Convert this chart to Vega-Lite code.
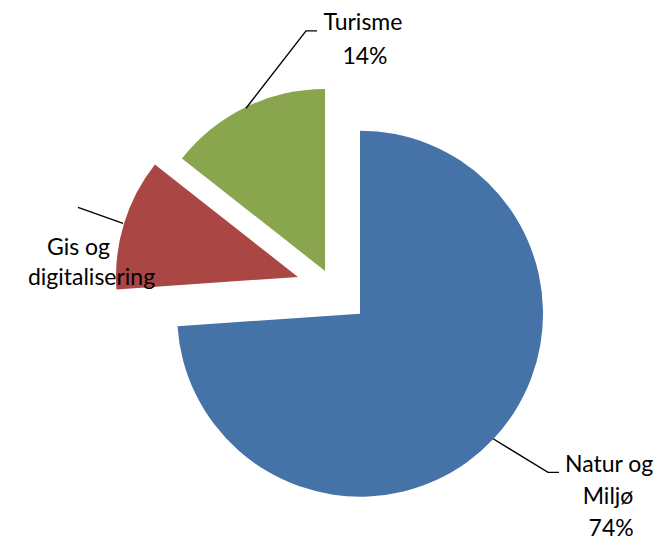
{
  "$schema": "https://vega.github.io/schema/vega-lite/v6.json",
  "width": 658,
  "height": 541,
  "padding": 0,
  "autosize": {"type": "fit", "contains": "padding"},
  "background": "white",
  "config": {"view": {"stroke": null}},
  "datasets": {
    "andeler": [
      {"kategori": "Natur og Miljø", "andel": 73.9, "rekkefolge": 1},
      {"kategori": "Gis og digitalisering", "andel": 11.7, "rekkefolge": 2},
      {"kategori": "Turisme", "andel": 14.4, "rekkefolge": 3}
    ],
    "linjer": [
      {"etikett": "Turisme", "punkt": 1, "u": -62.3, "v": 113.1},
      {"etikett": "Turisme", "punkt": 2, "u": -29.5, "v": 155.7},
      {"etikett": "Turisme", "punkt": 3, "u": -23.5, "v": 155.7},
      {"etikett": "Gis", "punkt": 1, "u": -154.1, "v": 58.5},
      {"etikett": "Gis", "punkt": 2, "u": -129.5, "v": 49.7},
      {"etikett": "Natur", "punkt": 1, "u": 72.7, "v": -68.9},
      {"etikett": "Natur", "punkt": 2, "u": 102.7, "v": -87.4},
      {"etikett": "Natur", "punkt": 3, "u": 108.7, "v": -87.4}
    ],
    "tekster": [
      {"tekst": "Turisme", "u": 1.6, "v": 156.3},
      {"tekst": "14%", "u": 2.7, "v": 137.7},
      {"tekst": "Gis og", "u": -153.8, "v": 32.2},
      {"tekst": "digitalisering", "u": -146.7, "v": 15.8},
      {"tekst": "Natur og", "u": 136.1, "v": -87.4},
      {"tekst": "Miljø", "u": 135.5, "v": -104.9},
      {"tekst": "74%", "u": 137.2, "v": -122.4}
    ]
  },
  "layer": [
    {
      "data": {"name": "andeler"},
      "transform": [
        {"stack": "andel", "groupby": [], "sort": [{"field": "rekkefolge"}], "as": ["start", "slutt"]}
      ],
      "encoding": {
        "theta": {"field": "start", "type": "quantitative", "scale": {"domain": [0, 100]}},
        "theta2": {"field": "slutt"},
        "color": {
          "field": "kategori",
          "type": "nominal",
          "scale": {"domain": ["Natur og Miljø", "Gis og digitalisering", "Turisme"], "range": ["#4572A7", "#AA4643", "#89A54E"]},
          "legend": null
        }
      },
      "layer": [
        {
          "transform": [{"filter": "datum.kategori === 'Natur og Miljø'"}],
          "mark": {"type": "arc", "outerRadius": 183},
          "encoding": {
            "x": {"datum": 0, "type": "quantitative", "scale": {"domain": [-196.7, 162.8], "nice": false, "zero": false}, "axis": null},
            "y": {"datum": 0, "type": "quantitative", "scale": {"domain": [-123.0, 172.7], "nice": false, "zero": false}, "axis": null}
          }
        },
        {
          "transform": [{"filter": "datum.kategori === 'Gis og digitalisering'"}],
          "mark": {"type": "arc", "outerRadius": 182},
          "encoding": {
            "x": {"datum": -33.9, "type": "quantitative", "scale": {"domain": [-196.7, 162.8], "nice": false, "zero": false}, "axis": null},
            "y": {"datum": 20.2, "type": "quantitative", "scale": {"domain": [-123.0, 172.7], "nice": false, "zero": false}, "axis": null}
          }
        },
        {
          "transform": [{"filter": "datum.kategori === 'Turisme'"}],
          "mark": {"type": "arc", "outerRadius": 182},
          "encoding": {
            "x": {"datum": -19.1, "type": "quantitative", "scale": {"domain": [-196.7, 162.8], "nice": false, "zero": false}, "axis": null},
            "y": {"datum": 23.5, "type": "quantitative", "scale": {"domain": [-123.0, 172.7], "nice": false, "zero": false}, "axis": null}
          }
        }
      ]
    },
    {
      "data": {"name": "linjer"},
      "mark": {"type": "line", "color": "black", "strokeWidth": 1.4},
      "encoding": {
        "x": {"field": "u", "type": "quantitative", "scale": {"domain": [-196.7, 162.8], "nice": false, "zero": false}, "axis": null},
        "y": {"field": "v", "type": "quantitative", "scale": {"domain": [-123.0, 172.7], "nice": false, "zero": false}, "axis": null},
        "detail": {"field": "etikett"},
        "order": {"field": "punkt"}
      }
    },
    {
      "data": {"name": "tekster"},
      "mark": {"type": "text", "font": "Lato", "fontSize": 23, "align": "center", "baseline": "alphabetic", "color": "black"},
      "encoding": {
        "x": {"field": "u", "type": "quantitative", "scale": {"domain": [-196.7, 162.8], "nice": false, "zero": false}, "axis": null},
        "y": {"field": "v", "type": "quantitative", "scale": {"domain": [-123.0, 172.7], "nice": false, "zero": false}, "axis": null},
        "text": {"field": "tekst"}
      }
    }
  ]
}
